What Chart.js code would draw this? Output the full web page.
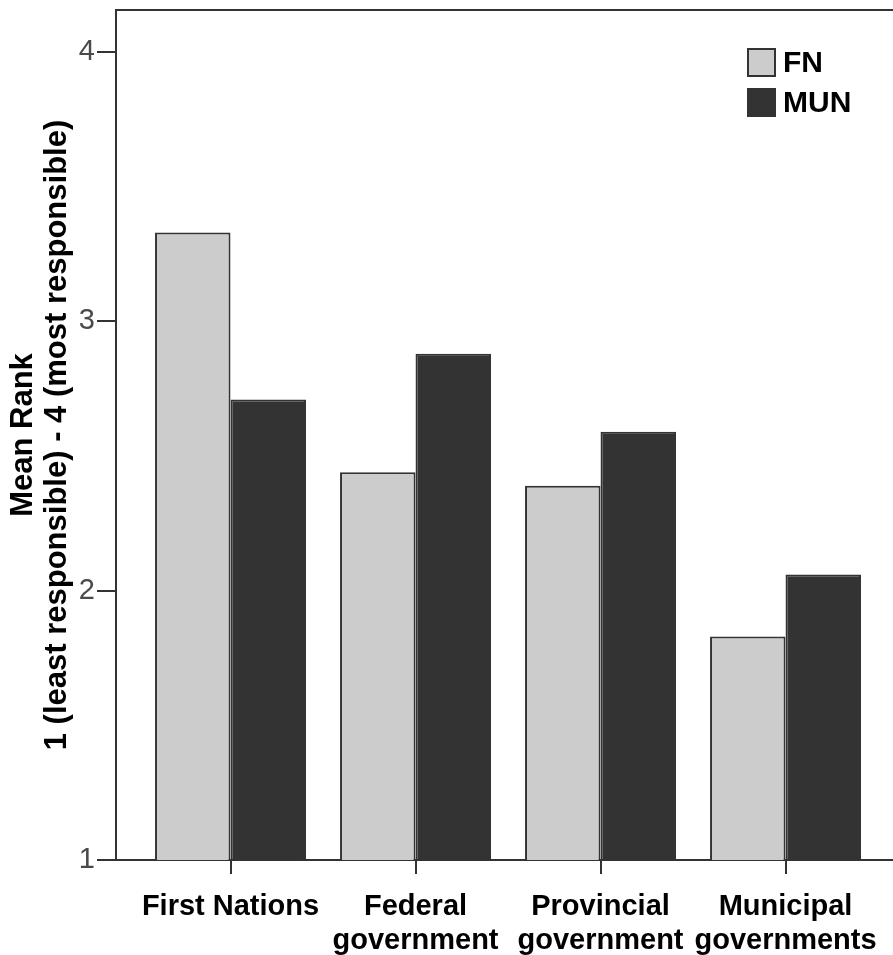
<!DOCTYPE html>
<html>
<head>
<meta charset="utf-8">
<script src="https://cdn.jsdelivr.net/npm/chart.js@4/dist/chart.umd.min.js"></script>
<style>
  html, body { margin: 0; padding: 0; background: #fff; overflow: hidden; }
  #wrap { position: relative; width: 893px; height: 955px; }
  #legend { position: absolute; left: 747px; top: 47px;
    font-family: "Liberation Sans", Arial, sans-serif; font-weight: bold; font-size: 30px; color: #000; }
  .item { display: flex; align-items: center; height: 30px; margin-bottom: 10px; }
  .sw { width: 25px; height: 25px; border: 2px solid #333; margin-right: 7px; }
  .txt { line-height: 30px; }
</style>
</head>
<body>
<div id="wrap">
  <canvas id="c" width="893" height="955"></canvas>
  <div id="legend"></div>
</div>
<script>
// ---- data ----
const categories = ["First Nations", ["Federal", "government"], ["Provincial", "government"], ["Municipal", "governments"]];
const seriesNames = ["FN", "MUN"];
const fnValues = [3.33, 2.44, 2.39, 1.83];
const munValues = [2.71, 2.88, 2.59, 2.06];
const yTickValues = [1, 2, 3, 4];
const yTitle = ["Mean Rank", "1 (least responsible) - 4 (most responsible)"];

// ---- styles ----
const FONT = "'Liberation Sans', Arial, sans-serif";
const colors = ["#cccccc", "#333333"];
const X_MIN = -0.619, X_MAX = 3.581;

const datasets = [fnValues, munValues].map((vals, k) => ({
  label: seriesNames[k],
  data: vals.map((v, i) => ({ x: i, y: v })),
  backgroundColor: colors[k],
  borderColor: "#333333",
  borderWidth: 2,
  borderSkipped: "bottom"
}));

const chart = new Chart(document.getElementById("c"), {
  type: "bar",
  data: { datasets },
  options: {
    responsive: false,
    animation: false,
    events: [],
    layout: { padding: { top: 10, right: 0, left: 0, bottom: 0 } },
    datasets: { bar: { categoryPercentage: 0.816, barPercentage: 1 } },
    plugins: { legend: { display: false }, tooltip: { enabled: false } },
    scales: {
      x: {
        type: "linear", position: "bottom", min: X_MIN, max: X_MAX, offset: false,
        afterBuildTicks: s => { s.ticks = categories.map((c, i) => ({ value: i })); },
        ticks: {
          callback: v => categories[v],
          font: { family: FONT, size: 29, weight: "bold", lineHeight: 1.18 },
          color: "#000", padding: 16, maxRotation: 0, minRotation: 0, autoSkip: false
        },
        grid: { display: true, offset: false, drawOnChartArea: false, drawTicks: true, tickLength: 14, color: "#333", lineWidth: 2 },
        border: { display: true, color: "#333", width: 2 },
        afterFit: s => { s.height = 95; s.paddingLeft = 0; s.paddingRight = 0; }
      },
      x2: {
        type: "linear", position: "top", min: X_MIN, max: X_MAX, offset: false,
        ticks: { display: false },
        grid: { display: true, offset: false, drawOnChartArea: false, drawTicks: false },
        border: { display: true, color: "#333", width: 2 },
        afterFit: s => { s.height = 0; s.paddingLeft = 0; s.paddingRight = 0; }
      },
      y: {
        min: 1, max: 4.156,
        afterBuildTicks: s => { s.ticks = yTickValues.map(v => ({ value: v })); },
        ticks: { font: { family: FONT, size: 29 }, color: "#4a4a4a", padding: 2 },
        grid: { display: true, drawOnChartArea: false, drawTicks: true, tickLength: 19, color: "#333", lineWidth: 2 },
        border: { display: true, color: "#333", width: 2 },
        title: {
          display: true, text: yTitle, color: "#000",
          font: { family: FONT, size: 31, weight: "bold", lineHeight: 1.1 },
          padding: { top: 6, bottom: 0 }
        },
        afterFit: s => { s.width = 116; s.paddingTop = 0; s.paddingBottom = 0; }
      }
    }
  }
});

// HTML legend built from the series
const lg = document.getElementById("legend");
chart.data.datasets.forEach(ds => {
  const item = document.createElement("div"); item.className = "item";
  const sw = document.createElement("div"); sw.className = "sw"; sw.style.background = ds.backgroundColor;
  const t = document.createElement("span"); t.className = "txt"; t.textContent = ds.label;
  item.appendChild(sw); item.appendChild(t); lg.appendChild(item);
});
</script>
</body>
</html>
